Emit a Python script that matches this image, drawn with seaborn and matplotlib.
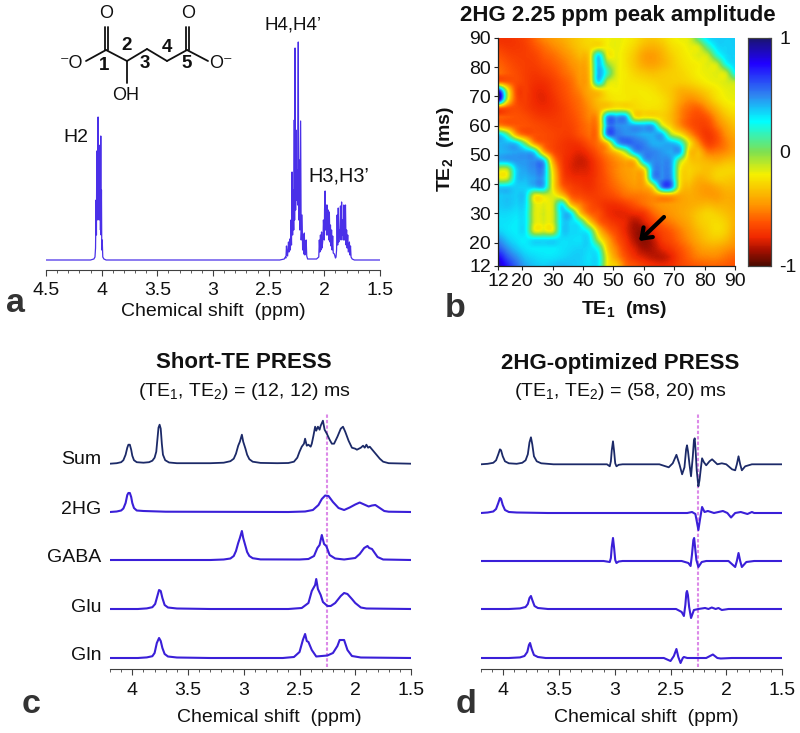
import numpy as np
import pandas as pd
import seaborn as sns
import matplotlib.pyplot as plt
from matplotlib.colors import LinearSegmentedColormap
from matplotlib.ticker import MultipleLocator

# spectra: (ppm, amplitude)
spec_1h = [(4.5, 0), (4.1, 0), (4.07, 1), (4.06, 3), (4.055, 12), (4.05, 60), (4.047, 25), (4.044, 109), (4.041, 40),
           (4.038, 95), (4.035, 45), (4.032, 143), (4.029, 50), (4.026, 110), (4.023, 40), (4.02, 100), (4.017, 45),
           (4.014, 115), (4.011, 30), (4.008, 124), (4.005, 25), (4.002, 70), (3.999, 10), (3.995, 20), (3.99, 3),
           (3.98, 1), (3.96, 0), (2.4, 0), (2.36, 1), (2.35, 3), (2.345, 2), (2.34, 14), (2.335, 5), (2.33, 4),
           (2.322, 18), (2.317, 8), (2.31, 21), (2.305, 10), (2.3, 40), (2.295, 15), (2.29, 88), (2.285, 25),
           (2.28, 70), (2.275, 30), (2.27, 140), (2.267, 40), (2.263, 212), (2.258, 50), (2.255, 130), (2.25, 60),
           (2.245, 90), (2.24, 55), (2.234, 218), (2.23, 40), (2.225, 100), (2.22, 30), (2.213, 139), (2.208, 20),
           (2.2, 45), (2.195, 10), (2.19, 25), (2.185, 6), (2.18, 27), (2.175, 5), (2.17, 10), (2.163, 20),
           (2.158, 4), (2.15, 1), (2.12, 1), (2.07, 1), (2.05, 3), (2.045, 20), (2.04, 8), (2.035, 25), (2.03, 10),
           (2.025, 28), (2.02, 12), (2.012, 22), (2.008, 40), (2.0, 20), (1.998, 50), (1.993, 69), (1.988, 30),
           (1.985, 55), (1.98, 25), (1.975, 55), (1.97, 25), (1.965, 50), (1.96, 20), (1.955, 48), (1.95, 18),
           (1.945, 35), (1.94, 14), (1.935, 30), (1.93, 10), (1.925, 24), (1.92, 7), (1.91, 6), (1.9, 2), (1.895, 3),
           (1.89, 10), (1.885, 45), (1.88, 15), (1.875, 52), (1.87, 18), (1.865, 30), (1.86, 25), (1.855, 54),
           (1.85, 20), (1.845, 58), (1.84, 25), (1.835, 40), (1.83, 20), (1.825, 55), (1.82, 20), (1.815, 50),
           (1.81, 55), (1.805, 15), (1.8, 30), (1.795, 12), (1.79, 25), (1.785, 8), (1.775, 18), (1.77, 5),
           (1.765, 14), (1.76, 3), (1.75, 1), (1.73, 0), (1.5, 0)]

short_sum = [(4.2, 0), (4.14, 0.5), (4.1, 1.5), (4.08, 3.5), (4.06, 9), (4.045, 16), (4.035, 19), (4.022, 19), (4.01, 14),
             (4.0, 8), (3.985, 3.5), (3.96, 1.5), (3.9, 1), (3.85, 1.5), (3.82, 3), (3.8, 6), (3.785, 12), (3.775, 24),
             (3.765, 36), (3.755, 39), (3.745, 35), (3.735, 20), (3.725, 9), (3.705, 3.5), (3.67, 1.2), (3.6, 0.5),
             (3.3, 0.5), (3.18, 1), (3.12, 2.5), (3.09, 5), (3.07, 10), (3.05, 18), (3.035, 22), (3.017, 29), (3.005, 22),
             (2.985, 15), (2.97, 9), (2.95, 4.5), (2.92, 2), (2.85, 0.8), (2.7, 0.5), (2.6, 0.7), (2.55, 2), (2.52, 6),
             (2.5, 12), (2.48, 17), (2.46, 20), (2.45, 25), (2.435, 18), (2.42, 19), (2.4, 17), (2.39, 20), (2.375, 28),
             (2.36, 37), (2.35, 33), (2.335, 37), (2.32, 34), (2.31, 38), (2.29, 43), (2.275, 34), (2.255, 30), (2.23, 24),
             (2.21, 20), (2.19, 20), (2.16, 27), (2.13, 35), (2.11, 37), (2.09, 32), (2.06, 23), (2.03, 16), (2.0, 15),
             (1.985, 14), (1.95, 16), (1.93, 18), (1.915, 16), (1.9, 19), (1.885, 16), (1.87, 17), (1.84, 13),
             (1.81, 9), (1.78, 5), (1.75, 2), (1.7, 0.5), (1.5, 0)]
short_2hg = [(4.2, 0), (4.14, 0.5), (4.1, 1.5), (4.08, 3.5), (4.06, 9), (4.045, 17), (4.035, 19), (4.022, 19), (4.01, 15),
             (4.0, 9), (3.985, 4), (3.96, 1.5), (3.9, 1), (3.7, 0.3), (2.6, 0), (2.45, 0.5), (2.38, 2), (2.33, 7), (2.3, 13),
             (2.27, 16.5), (2.24, 16), (2.2, 10), (2.15, 4), (2.1, 2), (2.05, 4.5), (2.0, 7.5), (1.96, 9.5), (1.93, 8),
             (1.88, 5.5), (1.85, 6.5), (1.82, 7), (1.78, 4), (1.74, 1), (1.7, 0.3), (1.5, 0)]
short_gaba = [(4.2, 0), (3.3, 0), (3.18, 0.5), (3.12, 1.5), (3.09, 4), (3.07, 9), (3.05, 17), (3.035, 22), (3.017, 29),
              (3.005, 22), (2.985, 14), (2.97, 8), (2.95, 4), (2.92, 1.8), (2.85, 0.6), (2.5, 0.5), (2.42, 1), (2.37, 4),
              (2.34, 12), (2.32, 15), (2.3, 25), (2.28, 16), (2.26, 14), (2.23, 5), (2.18, 1.5), (2.1, 0.5), (2.0, 2),
              (1.96, 6), (1.92, 12), (1.905, 13), (1.89, 14), (1.875, 12), (1.85, 11), (1.8, 3), (1.75, 0.5), (1.5, 0)]
short_glu = [(4.2, 0), (3.95, 0), (3.87, 0.6), (3.82, 1.8), (3.795, 5), (3.775, 13), (3.76, 19), (3.745, 18), (3.73, 11),
             (3.71, 4), (3.68, 1.5), (3.6, 0.5), (3.3, 0), (2.6, 0), (2.48, 1), (2.42, 6), (2.39, 18), (2.36, 24), (2.35, 30),
             (2.335, 20), (2.31, 14), (2.29, 7), (2.25, 3), (2.22, 3), (2.18, 6), (2.13, 13), (2.1, 16), (2.07, 15), (2.03, 10),
             (2.0, 6), (1.95, 1.5), (1.9, 0.5), (1.5, 0)]
short_gln = [(4.2, 0), (3.95, 0), (3.87, 0.6), (3.82, 1.8), (3.8, 5), (3.78, 15), (3.76, 20), (3.745, 17), (3.73, 10),
             (3.71, 4), (3.68, 1.5), (3.6, 0.5), (3.3, 0), (2.65, 0), (2.55, 1), (2.5, 6), (2.47, 18), (2.45, 24), (2.435, 17),
             (2.42, 16), (2.39, 8), (2.35, 1.5), (2.25, 2.5), (2.2, 5), (2.16, 12), (2.14, 18), (2.1, 18), (2.07, 8), (2.03, 2),
             (1.95, 0.5), (1.5, 0)]

opt_sum = [(4.2, 0), (4.14, 0.5), (4.09, 1.5), (4.065, 4), (4.045, 10), (4.03, 15), (4.02, 14), (4.005, 8), (3.985, 3),
           (3.95, 1), (3.88, 0.5), (3.83, 1.5), (3.8, 4), (3.78, 10), (3.765, 22), (3.752, 27), (3.74, 20), (3.725, 8),
           (3.7, 3), (3.66, 1), (3.55, 0), (3.07, 0), (3.045, -2), (3.035, 3), (3.027, 14), (3.016, 23), (3.006, 13),
           (2.996, 1), (2.985, -2), (2.965, -0.5), (2.93, 0), (2.6, 0), (2.516, -3), (2.48, 1), (2.447, 9.5), (2.42, 0),
           (2.396, -10), (2.375, -3), (2.36, 15), (2.352, 19), (2.343, 13), (2.33, 0), (2.316, -12), (2.3, 8), (2.29, 24),
           (2.283, 26), (2.275, 14), (2.265, -6), (2.25, -22), (2.24, -16), (2.23, -6), (2.217, 6), (2.2, 2), (2.18, -1),
           (2.15, 3), (2.127, 5), (2.08, 0), (2.04, 1), (2.0, 0), (1.948, -5), (1.92, -6), (1.905, 0), (1.89, 8), (1.875, 0),
           (1.86, -6), (1.83, -2), (1.77, 0), (1.5, 0)]
opt_2hg = [(4.2, 0), (4.14, 0.5), (4.09, 1.5), (4.065, 4), (4.045, 10), (4.03, 15), (4.02, 14), (4.005, 8), (3.985, 3),
           (3.95, 1), (3.88, 0.5), (3.6, 0), (2.45, 0), (2.35, 0), (2.307, 1), (2.277, -1), (2.265, -8), (2.25, -17),
           (2.235, -6), (2.217, 6), (2.195, 1), (2.165, 2), (2.11, 0), (2.03, 2), (1.99, 0), (1.957, -4.5), (1.92, 0),
           (1.87, 1), (1.81, -1), (1.77, 1), (1.75, 0), (1.5, 0)]
opt_gaba = [(4.2, 0), (3.1, 0), (3.045, -1), (3.035, 3), (3.027, 14), (3.016, 23), (3.006, 13), (2.996, 1), (2.985, -2),
            (2.965, -0.5), (2.93, 0), (2.4, 0), (2.34, -2), (2.32, -5), (2.308, 6), (2.295, 21), (2.288, 23), (2.28, 14),
            (2.268, 1), (2.25, -6), (2.22, -1), (2.18, 0), (1.98, 0), (1.92, -6), (1.905, 0), (1.89, 8), (1.875, 0),
            (1.86, -6), (1.82, -1), (1.75, 0), (1.5, 0)]
opt_glu = [(4.2, 0), (3.95, 0), (3.85, 0.6), (3.8, 2), (3.78, 5), (3.765, 11), (3.752, 13), (3.74, 9), (3.72, 3),
           (3.69, 1), (3.6, 0), (2.45, 0), (2.4, -3), (2.38, -7), (2.367, 4), (2.358, 16), (2.352, 18), (2.344, 14),
           (2.333, 2), (2.316, -9), (2.29, -1), (2.25, 0), (2.19, 1), (2.16, 0), (2.13, 1.5), (2.095, 0), (2.07, 1),
           (2.04, -1), (1.98, 0), (1.5, 0)]
opt_gln = [(4.2, 0), (3.95, 0), (3.85, 0.6), (3.81, 2), (3.785, 6), (3.77, 13), (3.76, 15), (3.745, 9), (3.725, 3),
           (3.69, 1), (3.62, 0), (2.56, 0), (2.5, -3), (2.47, 2), (2.447, 9), (2.43, 1), (2.41, -5), (2.39, 0), (2.38, 1),
           (2.35, 0), (2.18, 0), (2.12, 3.5), (2.08, 0), (2.05, -0.5), (1.95, 0), (1.5, 0)]

trace_names = ['Sum', '2HG', 'GABA', 'Glu', 'Gln']
short_traces = [short_sum, short_2hg, short_gaba, short_glu, short_gln]
opt_traces = [opt_sum, opt_2hg, opt_gaba, opt_glu, opt_gln]
short_baselines = [205.3, 157, 109, 60, 11]
opt_baselines = [204.7, 156, 108, 60, 11]

te1_ms = list(range(12, 91, 3))
te2_ms = list(range(90, 11, -3))
te_ticks = [12, 20, 30, 40, 50, 60, 70, 80, 90]

# peak amplitude x100, rows TE2 = 90 ... 12, cols TE1 = 12 ... 90
amp_rows = [
    [-72, -72, -70, -66, -58, -50, -45, -40, -35, -30, -26, -22, -20, -18, -20, -24, -30, -32, -28, -22, -18, -15, 10, 32, 36, 36, 36],
    [-68, -70, -70, -68, -62, -56, -50, -45, -38, -32, -28, -24, -20, -18, -22, -28, -36, -38, -34, -26, -22, -18, -14, 12, 32, 35, 36],
    [-62, -66, -68, -68, -66, -60, -56, -50, -44, -36, -30, 32, -18, -18, -24, -32, -42, -44, -38, -30, -24, -20, -16, -12, 18, 33, 35],
    [-58, -62, -66, -68, -68, -64, -60, -55, -48, -42, -32, 38, 0, -16, -24, -32, -40, -42, -38, -32, -26, -22, -20, -16, -12, 22, 34],
    [-55, -60, -64, -68, -70, -68, -64, -58, -52, -44, -34, 40, 15, -15, -22, -28, -32, -34, -32, -30, -28, -24, -20, -18, -16, -12, 25],
    [-56, -60, -64, -68, -72, -72, -68, -62, -56, -46, -36, 32, -10, -18, -22, -24, -26, -28, -30, -30, -30, -28, -24, -20, -18, -15, -10],
    [75, -10, -64, -68, -74, -75, -70, -64, -58, -50, -40, -30, -22, -20, -22, -22, -22, -24, -28, -32, -38, -38, -34, -28, -22, -18, -16],
    [95, -10, -62, -68, -74, -76, -72, -66, -60, -54, -44, -34, -26, -22, -22, -24, -22, -22, -25, -32, -42, -48, -45, -36, -26, -20, -18],
    [-58, -62, -64, -68, -72, -74, -72, -68, -62, -56, -48, -38, -28, -22, -24, -26, -24, -24, -26, -34, -48, -56, -58, -48, -36, -26, -22],
    [-58, -60, -62, -64, -68, -70, -70, -68, -64, -58, -50, -42, 44, 44, 42, -20, -22, -24, -28, -36, -50, -60, -64, -60, -46, -34, -28],
    [-48, -55, -60, -62, -64, -66, -68, -68, -66, -60, -54, -46, 46, 48, 46, 44, 42, 40, -10, -30, -48, -60, -66, -66, -54, -42, -34],
    [36, 10, -40, -58, -62, -64, -66, -68, -68, -62, -56, -48, 50, 52, 48, 46, 42, 42, 40, -5, -22, -45, -62, -70, -62, -48, -40],
    [40, 40, 34, 0, -45, -60, -66, -70, -72, -70, -62, -54, -30, 35, 54, 54, 50, 42, 42, 40, 25, -20, -48, -66, -62, -52, -44],
    [40, 42, 44, 42, 30, -35, -62, -70, -74, -76, -70, -60, -48, -30, -5, 40, 50, 50, 46, 42, 40, -30, -35, -52, -52, -48, -42],
    [40, 42, 46, 46, 48, 38, -40, -68, -76, -80, -76, -66, -56, -48, -40, -30, 35, 48, 48, 44, -5, -30, -34, -38, -40, -36, -34],
    [-10, -10, 35, 44, 48, 46, -25, -65, -76, -78, -76, -68, -58, -50, -44, -40, -25, 44, 48, 44, -20, -28, -32, -34, -30, -28, -28],
    [-15, -12, 35, 40, 44, 42, -20, -62, -72, -74, -74, -68, -60, -52, -46, -42, -36, 40, 48, 46, -22, -30, -38, -36, -30, -30, -32],
    [35, 36, 36, 36, 38, 38, -20, -55, -66, -70, -72, -68, -62, -56, -50, -46, -44, -20, 50, 50, -25, -36, -42, -44, -40, -36, -36],
    [36, 38, 36, 34, -18, -16, -16, -30, -58, -64, -68, -68, -66, -62, -56, -54, -52, -48, -44, -42, -42, -40, -42, -44, -44, -40, -40],
    [36, 38, 35, 32, -14, -16, -14, 28, -30, -50, -62, -68, -72, -72, -68, -62, -56, -50, -46, -44, -42, -40, -38, -36, -38, -38, -40],
    [34, 34, 32, 30, -14, -14, -14, 34, 30, -28, -55, -62, -72, -76, -76, -74, -70, -58, -50, -46, -42, -38, -32, -28, -30, -34, -38],
    [32, 32, 30, 30, -14, -15, -14, 33, 33, 20, -25, -55, -66, -72, -76, -84, -78, -68, -58, -52, -46, -40, -32, -28, -26, -30, -38],
    [36, 32, 30, 30, -16, -15, -16, 34, 34, 32, 20, -30, -55, -66, -76, -86, -88, -74, -66, -60, -52, -44, -36, -30, -26, -30, -40],
    [48, 38, 32, 30, 32, 32, 33, 33, 33, 32, 32, -10, -40, -60, -72, -84, -90, -82, -70, -64, -56, -48, -40, -34, -32, -36, -44],
    [60, 48, 38, 32, 30, 30, 30, 32, 34, 35, 33, 20, -30, -52, -68, -78, -86, -84, -76, -70, -62, -54, -46, -42, -42, -46, -50],
    [78, 60, 48, 38, 34, 32, 32, 34, 36, 36, 32, 30, -20, -45, -62, -72, -78, -82, -82, -76, -66, -58, -52, -50, -50, -54, -58],
    [88, 72, 56, 44, 38, 36, 38, 40, 38, 36, 33, 30, -20, -30, -55, -62, -68, -72, -74, -72, -66, -62, -60, -58, -58, -60, -62],
]

line_blue = '#3a1fd8'
line_navy = '#1c2a68'
guide_pink = '#dc8ae8'
dark_tick = '#404040'

sns.set_theme(style='white')
plt.rcParams['font.family'] = ['Liberation Sans', 'DejaVu Sans']
plt.rcParams['mathtext.fontset'] = 'custom'
plt.rcParams['mathtext.rm'] = 'Liberation Sans'
plt.rcParams['mathtext.bf'] = 'Liberation Sans:bold'
plt.rcParams['mathtext.default'] = 'regular'

W, H = 800, 733
LABEL = 14
fig = plt.figure(figsize=(W / 100, H / 100), dpi=100, facecolor='white')


def box(left, top, right, bottom):
    # pixel box to figure fractions
    return [left / W, 1 - bottom / H, (right - left) / W, (bottom - top) / H]


def draw_trace(ax, points, base, color, width):
    df = pd.DataFrame(points, columns=['ppm', 'amp'])
    df['amp'] = df['amp'] + base
    sns.lineplot(data=df, x='ppm', y='amp', ax=ax, color=color, lw=width, estimator=None, sort=False, errorbar=None)


def ppm_axis(ax, left_ppm, pad):
    ax.set_xlim(left_ppm, 1.5)
    ax.set_xlabel('')
    ax.set_ylabel('')
    ax.set_yticks([])
    for side in ['left', 'right', 'top']:
        ax.spines[side].set_visible(False)
    ax.spines['bottom'].set_color(dark_tick)
    ax.spines['bottom'].set_linewidth(0.8)
    ax.xaxis.set_major_locator(MultipleLocator(0.5))
    ax.xaxis.set_minor_locator(MultipleLocator(0.1))
    ax.xaxis.set_major_formatter(lambda v, p: f'{v:g}')
    ax.tick_params(axis='x', which='major', bottom=True, length=4.5, width=0.8, color=dark_tick,
                   labelsize=LABEL, labelcolor='#111111', pad=pad)
    ax.tick_params(axis='x', which='minor', bottom=True, length=2.2, width=0.6, color=dark_tick)
    ax.patch.set_alpha(0)


# a: 1H spectrum
ax_a = fig.add_axes(box(46, 30, 380, 270))
ax_a.set_ylim(0, 240)
draw_trace(ax_a, spec_1h, 10, '#4a30e8', 0.9)
ppm_axis(ax_a, 4.5, 4)

# b: amplitude map
ax_b = fig.add_axes(box(498, 38, 735, 266))
cax = fig.add_axes(box(748, 38, 771, 266))
amp_map = pd.DataFrame(np.array(amp_rows) / 100, index=te2_ms, columns=te1_ms)
amp_cmap = LinearSegmentedColormap.from_list('amp', [
    (0.0, '#4d0a00'), (0.07, '#a81000'), (0.125, '#f02800'), (0.19, '#ff5200'), (0.265, '#ff9400'), (0.4, '#f5f000'),
    (0.5, '#80e050'), (0.635, '#00ffff'), (0.75, '#2f85f0'), (0.89, '#2000ff'), (1.0, '#1a1470')])
sns.heatmap(amp_map, ax=ax_b, cbar_ax=cax, cmap=amp_cmap, vmin=-1, vmax=1, xticklabels=False, yticklabels=False)
# same cells again, smoothed as in the published map
ax_b.imshow(amp_map.values, cmap=amp_cmap, vmin=-1, vmax=1, extent=(0, 27, 27, 0), aspect='auto',
            interpolation='spline16', zorder=2)
ax_b.set_xlim(0.5, 26.5)
ax_b.set_ylim(26.5, 0.5)
ax_b.set_xticks([(t - 12) / 3 + 0.5 for t in te_ticks], [str(t) for t in te_ticks])
ax_b.set_yticks([(90 - t) / 3 + 0.5 for t in te_ticks], [str(t) for t in te_ticks], rotation=0)
ax_b.tick_params(axis='both', length=3, width=0.8, color='#222222', labelsize=LABEL, labelcolor='#111111',
                 bottom=True, left=True, pad=2)
for side in ['left', 'bottom']:
    ax_b.spines[side].set_visible(True)
    ax_b.spines[side].set_color('#222222')
    ax_b.spines[side].set_linewidth(0.9)
cax.set_yticks([-1, -0.5, 0, 0.5, 1], ['-1', '', '0', '', '1'])
cax.tick_params(axis='y', right=True, direction='in', length=2, width=0.8, color='#222222',
                labelsize=LABEL, labelcolor='#111111', pad=6)
for spine in cax.spines.values():
    spine.set_visible(True)
    spine.set_color('#444444')
    spine.set_linewidth(0.8)

# c, d: stacked spectra
for left, right, traces, bases in [(110, 411, short_traces, short_baselines), (481, 782, opt_traces, opt_baselines)]:
    ax = fig.add_axes(box(left, 409, right, 669))
    ax.set_ylim(0, 260)
    ax.axvline(2.25, ymin=0.008, ymax=0.985, color=guide_pink, lw=1.5, ls=(0, (1.6, 1.0)), zorder=1)
    for name, points, base in zip(trace_names, traces, bases):
        draw_trace(ax, points, base, line_navy if name == 'Sum' else line_blue, 1.3 if name == 'Sum' else 1.5)
    ppm_axis(ax, 4.2, 5)

# overlay in pixel coordinates for text and the molecule
ov = fig.add_axes([0, 0, 1, 1], zorder=10)
ov.set_xlim(0, W)
ov.set_ylim(H, 0)
ov.axis('off')
ov.patch.set_alpha(0)


def put(x, y, s, size=LABEL, weight='normal', color='#111111', **kw):
    kw.setdefault('ha', 'center')
    kw.setdefault('va', 'center')
    ov.text(x, y, s, fontsize=size, fontweight=weight, color=color, **kw)


bonds = [(86, 61, 106, 50), (106, 50, 127, 61), (127, 61, 127, 83), (127, 61, 147, 49), (147, 49, 167, 61),
         (167, 61, 187, 50), (187, 50, 208, 61), (104.5, 50, 104.5, 27), (108, 50, 108, 27),
         (185.5, 50, 185.5, 27), (189, 50, 189, 27)]
for x0, y0, x1, y1 in bonds:
    ov.plot([x0, x1], [y0, y1], color='#111111', lw=1.3, solid_capstyle='round')
put(106, 13, 'O', 13)
put(188, 13, 'O', 13)
put(72, 64, '\u207bO', 13)
put(221, 64, 'O\u207b', 13)
put(126, 95, 'OH', 13)
for x, y, s in [(104, 66, '1'), (127, 46, '2'), (145, 64, '3'), (167, 47, '4'), (187, 64, '5')]:
    put(x, y, s, 13.5, 'bold')

put(293, 25, 'H4,H4\u2019', 13.5)
put(76, 137, 'H2', 14)
put(339, 176, 'H3,H3\u2019', 14.3)
put(213, 312, 'Chemical shift  (ppm)')

put(618, 15, '2HG 2.25 ppm peak amplitude', 16, 'bold')
put(624, 310, r'$\mathbf{TE_1}$  (ms)', 14, 'bold')
put(446, 149, r'$\mathbf{TE_2}$  (ms)', 14, 'bold', rotation=90)
ov.annotate('', xy=(639, 241), xytext=(664, 217),
            arrowprops=dict(arrowstyle='->,head_length=0.55,head_width=0.4', lw=3, color='black',
                            shrinkA=0, shrinkB=0))

put(244, 363, 'Short-TE PRESS', 16, 'bold')
put(244, 392, r'(TE$_1$, TE$_2$) = (12, 12) ms')
put(620, 363, '2HG-optimized PRESS', 16, 'bold')
put(620, 392, r'(TE$_1$, TE$_2$) = (58, 20) ms')
put(269, 717, 'Chemical shift  (ppm)')
put(646, 717, 'Chemical shift  (ppm)')
for name, y in zip(trace_names, [460, 510, 558, 607, 655]):
    put(101, y, name, ha='right')

for x, y, s in [(15.5, 312, 'a'), (455, 317, 'b'), (31, 713, 'c'), (466, 713, 'd')]:
    put(x, y, s, 24.5, 'bold', '#333333', va='baseline')

fig.savefig('out.png', dpi=100)
